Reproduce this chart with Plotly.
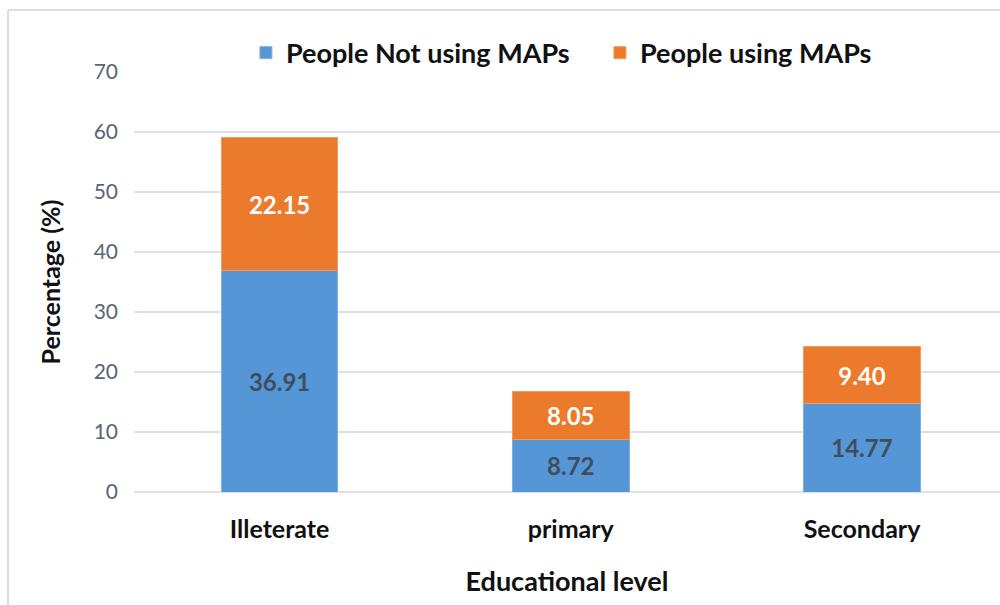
import plotly.graph_objects as go

# Share of respondents by educational level, split by use of MAPs
levels = ["Illeterate", "primary", "Secondary"]
not_using = [36.91, 8.72, 14.77]
using = [22.15, 8.05, 9.40]
y_ticks = [0, 10, 20, 30, 40, 50, 60, 70]

FONT = "Lato"
W, H = 1000, 605
ML, MR, MT, MB = 134, 0, 72, 113

fig = go.Figure()
fig.add_trace(go.Bar(
    x=levels, y=not_using, name="People Not using MAPs",
    marker=dict(color="#5596D6", line=dict(color="#7FB0E2", width=1)),
    texttemplate="%{y:.2f}", textposition="inside", insidetextanchor="middle",
    textangle=0, textfont=dict(family=FONT, size=24, color="#404D5D", weight="bold"),
    width=0.4,
))
fig.add_trace(go.Bar(
    x=levels, y=using, name="People using MAPs",
    marker=dict(color="#EC7A2C", line=dict(color="#F29A62", width=1)),
    texttemplate="%{y:.2f}", textposition="inside", insidetextanchor="middle",
    textangle=0, textfont=dict(family=FONT, size=24, color="white", weight="bold"),
    width=0.4,
))

# chart frame (left and top edges)
fx0 = (8 - ML) / (W - ML - MR)
fy1 = 1 + (MT - 10) / (H - MT - MB)
fig.add_shape(type="line", xref="paper", yref="paper", x0=fx0, x1=fx0, y0=-0.5, y1=fy1,
              line=dict(color="#D9DFE8", width=2))
fig.add_shape(type="line", xref="paper", yref="paper", x0=fx0, x1=1.2, y0=fy1, y1=fy1,
              line=dict(color="#D9DFE8", width=2))

fig.update_layout(
    barmode="stack",
    width=W, height=H,
    margin=dict(l=ML, r=MR, t=MT, b=MB),
    plot_bgcolor="white", paper_bgcolor="white",
    font=dict(family=FONT),
    uniformtext=dict(minsize=24, mode="show"),
    legend=dict(orientation="h", x=0.538, xanchor="center", y=1.045, yanchor="middle",
                font=dict(family=FONT, size=27, color="#111111", weight="bold"),
                itemwidth=30, entrywidth=309, traceorder="normal",
                bgcolor="rgba(0,0,0,0)"),
    xaxis=dict(range=[-0.5, 2.474], showgrid=False, showline=False, ticks="",
               ticklabelstandoff=20,
               tickfont=dict(family=FONT, size=25, color="#111111", weight="bold"),
               title=dict(text="Educational level", standoff=30,
                          font=dict(family=FONT, size=27, color="#111111", weight="bold"))),
    yaxis=dict(range=[0, 70], tickvals=y_ticks, showgrid=True, gridcolor="#DCE1E9", gridwidth=2,
               zeroline=True, zerolinecolor="#DCE1E9", zerolinewidth=2,
               ticks="", ticklabelstandoff=15,
               tickfont=dict(family=FONT, size=21, color="#5A6473"),
               title=dict(text="Percentage (%)", standoff=25,
                          font=dict(family=FONT, size=25, color="#111111", weight="bold"))),
)

fig.write_html("out.html")
